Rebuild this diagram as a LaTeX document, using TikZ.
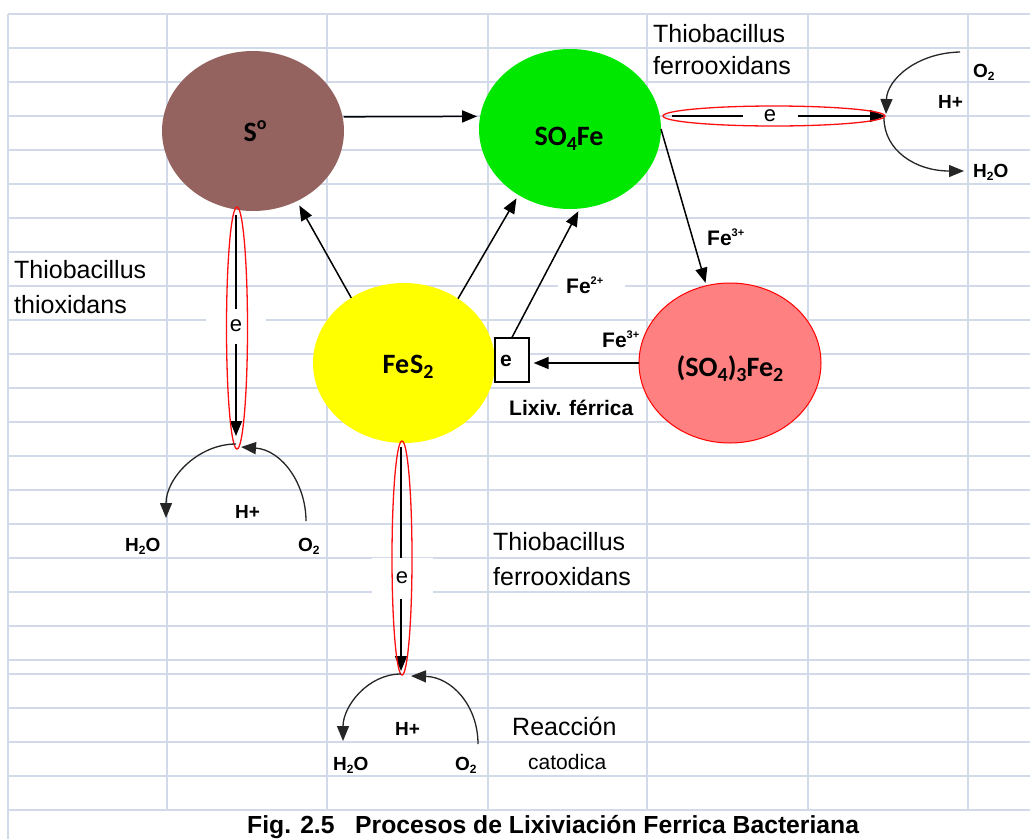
\documentclass[tikz,border=0pt]{standalone}
\usepackage{fontspec}
\setmainfont{Liberation Sans}
\newfontfamily\calib{Carlito}
\usetikzlibrary{arrows.meta,shapes.geometric}
\definecolor{gridc}{HTML}{D2D9E8}
\definecolor{sbrown}{HTML}{946360}
\definecolor{sgreen}{HTML}{00E800}
\definecolor{syellow}{HTML}{FFFF00}
\definecolor{spink}{HTML}{FF8080}
\definecolor{ered}{HTML}{FF1010}
\newcommand\mysub[2][12]{\raisebox{-0.35ex}{\fontsize{#1}{#1}\selectfont #2}}
\newcommand\mysup[1]{\raisebox{0.8ex}{\fontsize{11}{11}\selectfont #1}}
\tikzset{
  gridline/.style={draw=gridc, line width=1.3pt},
  blob/.style={ellipse, inner sep=0pt, outer sep=0pt, minimum width=182pt, minimum height=160pt},
  blobtext/.style={inner sep=0pt, font=\calib\bfseries\fontsize{28}{28}\selectfont},
  arr/.style={draw=black, line width=1.5pt, -{Triangle[length=15pt,width=12pt]}},
  arc/.style={draw=black!85, line width=1.3pt, -{Triangle[length=15pt,width=12pt]}},
  redell/.style={draw=ered, line width=1.3pt},
  elabel/.style={fill=white, inner sep=0pt, font=\fontsize{22}{22}\selectfont},
  thio/.style={anchor=base west, inner sep=0pt, font=\fontsize{25}{25}\selectfont},
  smallthio/.style={anchor=base west, inner sep=0pt, font=\fontsize{21}{21}\selectfont},
  lbl/.style={anchor=base west, inner sep=0pt, font=\bfseries\fontsize{21}{21}\selectfont},
  chem/.style={anchor=base west, inner sep=0pt, font=\bfseries\fontsize{19}{19}\selectfont},
}
\begin{document}
\begin{tikzpicture}[x=1pt,y=-1pt]
\useasboundingbox (0,0) rectangle (1030,839);
\fill[white] (0,0) rectangle (1030,839);
% spreadsheet grid
\foreach \y in {14,48,82,116,150,184,218,252,286,320,354,388,422,456,490,524,558,592,626,660,674,708,742,776,810}
  \draw[gridline] (8,\y) -- (1030,\y);
\foreach \x in {167,327,488,647,808,968}
  \draw[gridline] (\x,14) -- (\x,810);
\draw[gridline] (8,14) -- (8,839);

% main species
\node[blob, fill=sbrown] (S) at (253,131) {};
\node[blob, fill=sgreen] (SO) at (570,129) {};
\node[blob, fill=syellow] (FeS) at (404,363) {};
\node[blob, fill=spink, draw=red, line width=1pt] (SOFe) at (730,363) {};
\node[blobtext] (St) at (255,131) {S\raisebox{0.9ex}{\fontsize{18}{18}\selectfont o}};
\node[blobtext] (SOt) at (569,139) {SO\mysub[20]{4}Fe};
\node[blobtext] (FeSt) at (408,367) {Fe\kern1pt S\mysub[20]{2}};
\node[blobtext] (SOFet) at (730,369) {(SO\mysub[20]{4})\mysub[20]{3}Fe\mysub[20]{2}};
\node[draw=black, line width=1.3pt, fill=white, minimum width=34pt, minimum height=44pt, inner sep=0pt] (ebox) at (512,360) {};
\node[lbl] (eboxt) at (500,366) {e};

% label covering grid (Fe2+)
\node[fill=white, minimum width=67pt, minimum height=26pt, inner sep=0pt] (fe2box) at (591,286) {};

% arrows between species
\draw[arr, shorten <=1pt, shorten >=3pt] (S.9.6) -- (SO.172);
\draw[arr, shorten >=5pt] (FeS.129) -- (S.302);
\draw[arr, shorten >=4pt] (FeS.50.6) -- (SO.232);
\draw[arr, shorten >=3pt] (ebox.north) -- (SO.277);
\draw[arr, shorten >=3pt] (SO.east) -- (SOFe.107.6);
\draw[arr, shorten >=4pt] (SOFe.west) -- (SOFe.west -| ebox.east);

% electron transfer paths
\coordinate (a1) at (236,215);
\coordinate (a2) at (236,436);
\coordinate (b1) at (401,447);
\coordinate (b2) at (401,671);
\coordinate (c1) at (672,116);
\coordinate (c2) at (885,116);
\draw[arr] (a1) -- (a2);
\draw[arr] (b1) -- (b2);
\draw[arr] (c1) -- (c2);
\node[elabel, minimum width=60pt, minimum height=35pt] (e1) at (236,326) {e};
\node[elabel, minimum width=61pt, minimum height=41pt] (e2) at (402,578) {e};
\node[elabel, minimum width=55pt, minimum height=16pt] (e3) at (770,116) {e};
\draw[redell] (237,328) ellipse [x radius=10.5, y radius=121];
\draw[redell] (402,558) ellipse [x radius=10, y radius=117];
\draw[redell] (774,116) ellipse [x radius=111, y radius=10];

% cathodic half reactions
\coordinate (t1) at (236,444);
\coordinate (l1) at (166,518);
\coordinate (r1) at (306,521);
\coordinate (t1r) at (241,447);
\draw[arc] (t1) .. controls (198,444) and (166,478) .. (l1);
\draw[arc] (r1) .. controls (306,484) and (282,450) .. (t1r);

\coordinate (t2) at (401,674);
\coordinate (l2) at (343,741);
\coordinate (r2) at (478,744);
\coordinate (t2r) at (411,676);
\draw[arc] (t2) .. controls (368,674) and (343,706) .. (l2);
\draw[arc] (r2) .. controls (478,706) and (452,677) .. (t2r);

\coordinate (u1) at (960,52);
\coordinate (u2) at (886,114);
\coordinate (w1) at (884,118);
\coordinate (w2) at (964,171);
\draw[arc] (u1) .. controls (916,53) and (887,80) .. (u2);
\draw[arc] (w1) .. controls (884,150) and (915,171) .. (w2);

% chemistry labels
\node[chem] (hp1) at (235,518) {H+};
\node[chem] (hw1) at (125,551) {H\mysub{2}O};
\node[chem] (ox1) at (298,551) {O\mysub{2}};
\node[chem] (hp2) at (395,735) {H+};
\node[chem] (hw2) at (333,770) {H\mysub{2}O};
\node[chem] (ox2) at (455,770) {O\mysub{2}};
\node[chem] (ox3) at (973,77) {O\mysub{2}};
\node[chem] (hp3) at (938,108) {H+};
\node[chem] (hw3) at (973,177) {H\mysub{2}O};

\node[lbl] (fe3a) at (707,245) {Fe\mysup{3+}};
\node[lbl] (fe2) at (566,293) {Fe\mysup{2+}};
\node[lbl] (fe3b) at (602,347) {Fe\mysup{3+}};
\node[lbl] (lix) at (509,415) {Lixiv. férrica};

% organism labels
\node[thio] (th1) at (653,42) {Thiobacillus};
\node[thio] (th1b) at (653,74) {ferrooxidans};
\node[thio] (th2) at (14,278) {Thiobacillus};
\node[thio] (th2b) at (14,313) {thioxidans};
\node[thio] (th3) at (493,550) {Thiobacillus};
\node[thio] (th3b) at (493,585) {ferrooxidans};
\node[thio] (rea) at (512,735) {Reacción};
\node[smallthio] (cat) at (528,769) {catodica};

% caption
\node[anchor=base west, inner sep=0pt, font=\bfseries\fontsize{24.7}{25}\selectfont] (cap) at (247,833)
  {Fig. 2.5\ \ \ Procesos de Lixiviación Ferrica Bacteriana};
\end{tikzpicture}
\end{document}
